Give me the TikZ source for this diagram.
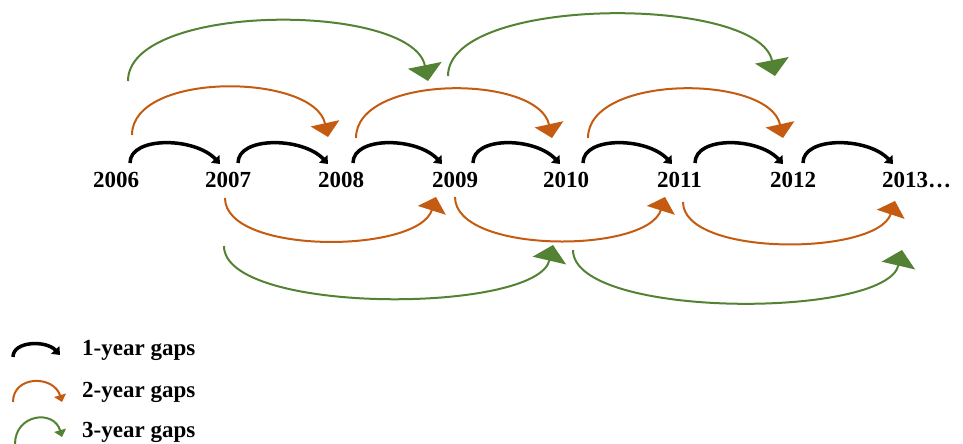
\documentclass[tikz,border=0pt]{standalone}
\usepackage{fontspec}
\setmainfont{Liberation Serif}
\usetikzlibrary{arrows.meta,calc}
\definecolor{gorange}{HTML}{C55A11}
\definecolor{ggreen}{HTML}{548235}
\tikzset{
  year/.style={anchor=base west, inner sep=0pt, font=\fontsize{23}{23}\selectfont\bfseries},
  legtext/.style={anchor=base west, inner sep=0pt, font=\fontsize{23}{23}\selectfont\bfseries},
  onegap/.style={black, line width=3.5pt, -{Triangle[width=11pt,length=7pt]}},
  twogap/.style={gorange, line width=2pt, -{Triangle[width=29pt,length=14pt]}},
  threegap/.style={ggreen, line width=2pt, -{Triangle[width=34pt,length=16pt]}},
  twoleg/.style={gorange, line width=2pt, -{Triangle[width=12pt,length=7pt]}},
  threeleg/.style={ggreen, line width=2pt, -{Triangle[width=12pt,length=7pt]}},
}
\begin{document}
\begin{tikzpicture}[x=1pt,y=1pt]
\useasboundingbox (0,0) rectangle (963,444);
% years
\node[year] (y06) at (93,256) {2006};
\node[year] (y07) at (205,256) {2007};
\node[year] (y08) at (318,256) {2008};
\node[year] (y09) at (432,256) {2009};
\node[year] (y10) at (543,256) {2010};
\node[year] (y11) at (657,256) {2011};
\node[year] (y12) at (770,256) {2012};
\node[year] (y13) at (882,256) {2013…};
% 1-year gaps
\draw[onegap] ($(y06.base west)+(37,25)$) .. controls +(0,27) and +(-25,27) .. ($(y07.base west)+(15,24)$);
\draw[onegap] ($(y07.base west)+(33,25)$) .. controls +(0,27) and +(-25,27) .. ($(y08.base west)+(10,24)$);
\draw[onegap] ($(y08.base west)+(35,25)$) .. controls +(0,27) and +(-25,27) .. ($(y09.base west)+(10,24)$);
\draw[onegap] ($(y09.base west)+(41,25)$) .. controls +(0,27) and +(-25,27) .. ($(y10.base west)+(17,24)$);
\draw[onegap] ($(y10.base west)+(40,25)$) .. controls +(0,27) and +(-25,27) .. ($(y11.base west)+(15,24)$);
\draw[onegap] ($(y11.base west)+(38,25)$) .. controls +(0,27) and +(-25,27) .. ($(y12.base west)+(13,24)$);
\draw[onegap] ($(y12.base west)+(33,25)$) .. controls +(0,27) and +(-25,27) .. ($(y13.base west)+(11,24)$);
% 2-year gaps, above
\draw[twogap] ($(y06.base west)+(39,53)$) .. controls +(0,64) and +(-14,64) .. ($(y08.base west)+(10,51)$);
\draw[twogap] ($(y08.base west)+(38,50)$) .. controls +(0,64) and +(-14,64) .. ($(y10.base west)+(9,50)$);
\draw[twogap] ($(y10.base west)+(45,50)$) .. controls +(0,64) and +(-14,64) .. ($(y12.base west)+(13,50)$);
% 3-year gaps, above
\draw[threegap] ($(y06.base west)+(35,107)$) .. controls +(0,79) and +(-16,79) .. ($(y09.base west)+(-4,107)$);
\draw[threegap] ($(y09.base west)+(16,112)$) .. controls +(0,81) and +(-16,81) .. ($(y12.base west)+(5,112)$);
% 2-year gaps, below
\draw[twogap] ($(y07.base west)+(20,-10)$) .. controls +(0,-57) and +(-18,-57) .. ($(y09.base west)+(4,-9)$);
\draw[twogap] ($(y09.base west)+(23,-9)$) .. controls +(0,-57) and +(-18,-57) .. ($(y11.base west)+(8,-9)$);
\draw[twogap] ($(y11.base west)+(26,-14)$) .. controls +(0,-55) and +(-18,-55) .. ($(y13.base west)+(13,-13)$);
% 3-year gaps, below
\draw[threegap] ($(y07.base west)+(19,-58)$) .. controls +(0,-69) and +(-16,-69) .. ($(y10.base west)+(10,-57)$);
\draw[threegap] ($(y10.base west)+(30,-62)$) .. controls +(0,-69) and +(-16,-69) .. ($(y13.base west)+(20,-62)$);
% legend
\coordinate (l1a) at (13,87); \coordinate (l1b) at (60,89);
\coordinate (l2a) at (13,42); \coordinate (l2b) at (62,42);
\coordinate (l3a) at (15,0);  \coordinate (l3b) at (62,7);
\draw[onegap] (l1a) .. controls +(0,16) and +(-14,15) .. (l1b);
\draw[twoleg] (l2a) .. controls +(0,27) and +(-8,27) .. (l2b);
\draw[threeleg] (l3a) .. controls +(0,30) and +(-8,28) .. (l3b);
\node[legtext] (t1) at (82,88) {1-year gaps};
\node[legtext] (t2) at (82,46) {2-year gaps};
\node[legtext] (t3) at (82,6) {3-year gaps};
\end{tikzpicture}
\end{document}
